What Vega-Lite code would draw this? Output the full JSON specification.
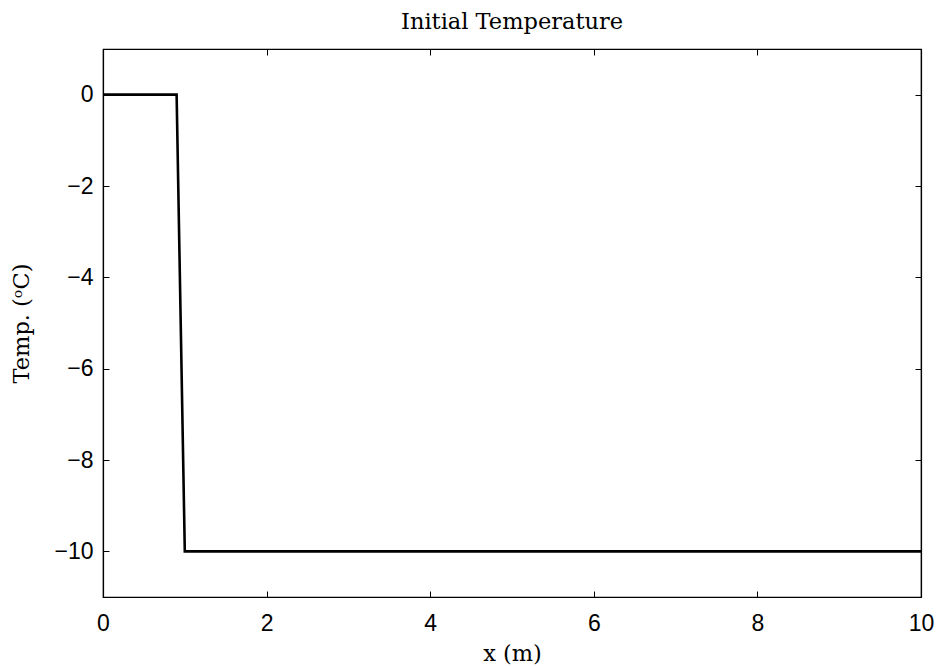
{
  "$schema": "https://vega.github.io/schema/vega-lite/v6.json",
  "autosize": "none",
  "width": 818,
  "height": 548,
  "padding": {"left": 103, "top": 49, "right": 19, "bottom": 69},
  "background": "white",
  "title": {"text": "Initial Temperature", "font": "DejaVu Serif", "fontSize": 22.5, "fontWeight": "normal", "color": "black", "offset": 15},
  "data": {"values": [
    {"x": 0, "t": 0},
    {"x": 0.9, "t": 0},
    {"x": 1.0, "t": -10},
    {"x": 10, "t": -10}
  ]},
  "config": {
    "view": {"stroke": "black", "strokeWidth": 1.2},
    "axis": {"grid": false, "domainColor": "black", "tickColor": "black", "labelColor": "black", "titleColor": "black", "domainWidth": 1.2, "tickWidth": 1}
  },
  "layer": [
    {
      "mark": {"type": "line", "color": "black", "strokeWidth": 2.6},
      "encoding": {
        "x": {"field": "x", "type": "quantitative", "scale": {"domain": [0, 10], "nice": false, "zero": false},
          "axis": {"values": [0, 2, 4, 6, 8, 10], "tickSize": -6, "labelPadding": 21, "labelFont": "Liberation Sans", "labelFontSize": 23, "title": "x (m)", "titleFont": "DejaVu Serif", "titleFontSize": 22.5, "titleFontWeight": "normal", "titlePadding": 7, "labelFlush": false}},
        "y": {"field": "t", "type": "quantitative", "scale": {"domain": [-11, 1], "nice": false, "zero": false},
          "axis": {"values": [-10, -8, -6, -4, -2, 0], "tickSize": -6, "labelPadding": 16, "labelFont": "Liberation Sans", "labelFontSize": 23, "title": "Temp. (ᵒC)", "titleFont": "DejaVu Serif", "titleFontSize": 22.5, "titleFontWeight": "normal", "titlePadding": 20}}
      }
    },
    {
      "mark": {"type": "line", "opacity": 0},
      "encoding": {
        "x": {"field": "x", "type": "quantitative", "axis": {"orient": "top", "values": [0, 2, 4, 6, 8, 10], "tickSize": -6, "labels": false, "title": null}},
        "y": {"field": "t", "type": "quantitative", "axis": {"orient": "right", "values": [-10, -8, -6, -4, -2, 0], "tickSize": -6, "labels": false, "title": null}}
      }
    }
  ],
  "resolve": {"axis": {"x": "independent", "y": "independent"}}
}
